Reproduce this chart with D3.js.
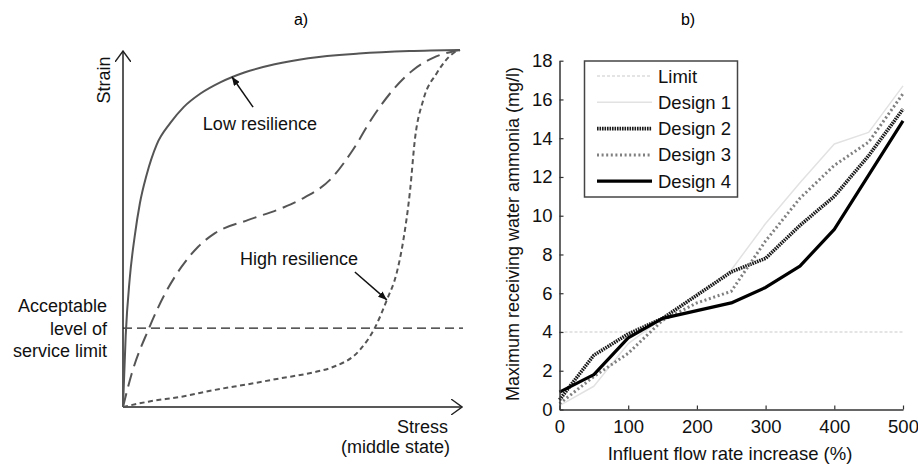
<!DOCTYPE html>
<html>
<head>
<meta charset="utf-8">
<script src="https://cdn.jsdelivr.net/npm/d3@7"></script>
<style>
  body { margin: 0; background: #fff; }
  svg { display: block; }
</style>
</head>
<body>
<svg id="chart" width="918" height="465"></svg>
<script>
// ---- panel a) : conceptual strain / stress curves (normalised 0..1) ----
const lowResilience = [
  [0, 0], [0.008, 0.2], [0.02, 0.36], [0.035, 0.48], [0.05, 0.57], [0.07, 0.65],
  [0.1, 0.735], [0.14, 0.795], [0.18, 0.84], [0.23, 0.878], [0.29, 0.91],
  [0.36, 0.937], [0.45, 0.96], [0.55, 0.977], [0.7, 0.99], [0.85, 0.997], [1, 1]
];
const midResilience = [
  [0, 0], [0.026, 0.094], [0.075, 0.216], [0.125, 0.318], [0.174, 0.393],
  [0.223, 0.449], [0.273, 0.487], [0.372, 0.524], [0.471, 0.557], [0.525, 0.580],
  [0.623, 0.645], [0.682, 0.720], [0.742, 0.813], [0.801, 0.888], [0.861, 0.944],
  [0.920, 0.978], [1, 1]
];
const highResilience = [
  [0, 0], [0.075, 0.015], [0.174, 0.029], [0.273, 0.048], [0.372, 0.064],
  [0.471, 0.081], [0.570, 0.098], [0.623, 0.112], [0.703, 0.160], [0.748, 0.223],
  [0.783, 0.300], [0.812, 0.375], [0.832, 0.468], [0.852, 0.608], [0.866, 0.748],
  [0.891, 0.860], [0.931, 0.935], [0.980, 0.991], [1, 1]
];
const serviceLimit = 0.221;

// ---- panel b) : maximum receiving water ammonia ----
const flowIncrease = [0, 50, 100, 150, 200, 250, 300, 350, 400, 450, 500];
const limitValues = [4, 4, 4, 4, 4, 4, 4, 4, 4, 4, 4];
const design1 = [0.2, 1.2, 3.4, 4.7, 5.9, 7.2, 9.6, 11.7, 13.7, 14.3, 16.7];
const design2 = [0.5, 2.8, 3.9, 4.7, 5.9, 7.1, 7.8, 9.5, 11.0, 13.1, 15.5];
const design3 = [0.3, 1.7, 2.9, 4.6, 5.5, 6.1, 8.7, 10.9, 12.6, 13.8, 16.3];
const design4 = [0.9, 1.8, 3.7, 4.7, 5.1, 5.5, 6.3, 7.4, 9.3, 12.1, 14.9];
const xTicks = [0, 100, 200, 300, 400, 500];
const yTicks = [0, 2, 4, 6, 8, 10, 12, 14, 16, 18];

const FONT = 'Liberation Sans, Arial, sans-serif';
const svg = d3.select('#chart');

const defs = svg.append('defs');
defs.append('marker')
    .attr('id', 'openArrow')
    .attr('viewBox', '0 0 12 16')
    .attr('refX', 11).attr('refY', 8)
    .attr('markerWidth', 12).attr('markerHeight', 16)
    .attr('markerUnits', 'userSpaceOnUse')
    .attr('orient', 'auto')
  .append('path')
    .attr('d', 'M0,0 L11,8 L0,16')
    .attr('fill', 'none')
    .attr('stroke', '#222')
    .attr('stroke-width', 1.4);
defs.append('marker')
    .attr('id', 'solidArrow')
    .attr('viewBox', '0 0 10 8')
    .attr('refX', 10).attr('refY', 4)
    .attr('markerWidth', 9).attr('markerHeight', 7)
    .attr('markerUnits', 'userSpaceOnUse')
    .attr('orient', 'auto')
  .append('path')
    .attr('d', 'M0,0 L10,4 L0,8 Z')
    .attr('fill', '#111');

const drawPanelA = () => {
  const x = d3.scaleLinear().domain([0, 1]).range([123, 460]);
  const y = d3.scaleLinear().domain([0, 1]).range([407, 50]);
  const g = svg.append('g').attr('class', 'panel-a');

  g.append('text')
      .attr('x', 301).attr('y', 25)
      .attr('text-anchor', 'middle')
      .style('font-family', FONT).style('font-size', '16px')
      .text('a)');

  // axes with open arrows
  g.append('line')
      .attr('x1', x(0)).attr('y1', y(0)).attr('x2', x(0)).attr('y2', 51)
      .attr('stroke', '#222').attr('stroke-width', 1.5)
      .attr('marker-end', 'url(#openArrow)');
  g.append('line')
      .attr('x1', x(0)).attr('y1', y(0)).attr('x2', 462).attr('y2', y(0))
      .attr('stroke', '#222').attr('stroke-width', 1.5)
      .attr('marker-end', 'url(#openArrow)');

  // acceptable level line
  g.append('line')
      .attr('x1', x(0)).attr('x2', 463)
      .attr('y1', y(serviceLimit)).attr('y2', y(serviceLimit))
      .attr('stroke', '#222').attr('stroke-width', 1.3)
      .attr('stroke-dasharray', '9,5');

  const line = d3.line()
      .x((d) => x(d[0]))
      .y((d) => y(d[1]))
      .curve(d3.curveMonotoneX);

  const curves = [
    { data: lowResilience, dash: null },
    { data: midResilience, dash: '14,7' },
    { data: highResilience, dash: '5,3.5' }
  ];
  g.selectAll('path.resilience')
      .data(curves)
      .enter()
      .append('path')
      .classed('resilience', true)
      .attr('d', (d) => line(d.data))
      .attr('fill', 'none')
      .attr('stroke', '#555')
      .attr('stroke-width', 2)
      .attr('stroke-dasharray', (d) => d.dash);

  // annotations
  g.append('line')
      .attr('x1', x(0.386)).attr('y1', y(0.840))
      .attr('x2', x(0.323)).attr('y2', y(0.925))
      .attr('stroke', '#111').attr('stroke-width', 1.5)
      .attr('marker-end', 'url(#solidArrow)');
  g.append('line')
      .attr('x1', x(0.688)).attr('y1', y(0.378))
      .attr('x2', x(0.783)).attr('y2', y(0.300))
      .attr('stroke', '#111').attr('stroke-width', 1.5)
      .attr('marker-end', 'url(#solidArrow)');

  const label = (tx, ty, str, anchor) => g.append('text')
      .attr('x', tx).attr('y', ty)
      .attr('text-anchor', anchor || 'start')
      .style('font-family', FONT).style('font-size', '18px')
      .style('fill', '#111')
      .text(str);

  label(x(0.237), y(0.776), 'Low resilience');
  label(x(0.347), y(0.398), 'High resilience');
  label(107, 312, 'Acceptable', 'end');
  label(107, 335, 'level  of', 'end');
  label(107, 357, 'service  limit', 'end');
  label(448, 433, 'Stress', 'end');
  label(450, 453, '(middle state)', 'end');

  g.append('text')
      .attr('transform', 'translate(110,80) rotate(-90)')
      .attr('text-anchor', 'middle')
      .style('font-family', FONT).style('font-size', '18px')
      .style('fill', '#111')
      .text('Strain');
}

const drawPanelB = () => {
  const x = d3.scaleLinear().domain([0, 500]).range([559.5, 903]);
  const y = d3.scaleLinear().domain([0, 18]).range([409.5, 60.7]);
  const g = svg.append('g').attr('class', 'panel-b');

  g.append('text')
      .attr('x', 688).attr('y', 25)
      .attr('text-anchor', 'middle')
      .style('font-family', FONT).style('font-size', '16px')
      .text('b)');

  const series = [
    { name: 'Limit', values: limitValues, color: '#c9c9c9', width: 1.2, dash: '3,2' },
    { name: 'Design 1', values: design1, color: '#e2e2e2', width: 1.5, dash: null },
    { name: 'Design 2', values: design2, color: '#1a1a1a', width: 3.6, dash: '1.6,0.9' },
    { name: 'Design 3', values: design3, color: '#808080', width: 3, dash: '2,2.6' },
    { name: 'Design 4', values: design4, color: '#000', width: 3.2, dash: null }
  ];

  const line = d3.line()
      .x((d, i) => x(flowIncrease[i]))
      .y((d) => y(d));

  g.selectAll('path.design')
      .data(series)
      .enter()
      .append('path')
      .classed('design', true)
      .attr('d', (d) => line(d.values))
      .attr('fill', 'none')
      .attr('stroke', (d) => d.color)
      .attr('stroke-width', (d) => d.width)
      .attr('stroke-dasharray', (d) => d.dash)
      .attr('stroke-linejoin', 'round');

  const xAxis = g.append('g')
      .attr('transform', `translate(0,${y(0)})`)
      .call(d3.axisBottom(x).tickValues(xTicks).tickSizeInner(-4).tickSizeOuter(0).tickPadding(10));
  const yAxis = g.append('g')
      .attr('transform', `translate(${x(0)},0)`)
      .call(d3.axisLeft(y).tickValues(yTicks).tickSizeInner(-4).tickSizeOuter(0).tickPadding(7));

  [xAxis, yAxis].forEach((ax) => {
    ax.select('.domain').attr('stroke', '#333').attr('stroke-width', 1.5);
    ax.selectAll('.tick line').attr('stroke', '#333').attr('stroke-width', 1.2);
    ax.selectAll('.tick text')
        .style('font-family', FONT)
        .style('font-size', '18.5px')
        .style('fill', '#111');
  });

  g.append('text')
      .attr('x', 730).attr('y', 460)
      .attr('text-anchor', 'middle')
      .style('font-family', FONT).style('font-size', '18.5px')
      .style('fill', '#111')
      .text('Influent flow rate increase (%)');
  g.append('text')
      .attr('transform', 'translate(519,234) rotate(-90)')
      .attr('text-anchor', 'middle')
      .style('font-family', FONT).style('font-size', '18px')
      .style('fill', '#111')
      .text('Maximum receiving water ammonia (mg/l)');

  // legend
  const legend = g.append('g').attr('class', 'legend');
  legend.append('rect')
      .attr('x', 584.5).attr('y', 61)
      .attr('width', 153).attr('height', 136)
      .attr('fill', '#fff')
      .attr('stroke', '#444').attr('stroke-width', 1.5);
  const rows = legend.selectAll('g.row')
      .data(series)
      .enter()
      .append('g')
      .classed('row', true)
      .attr('transform', (d, i) => `translate(0,${76 + i * 26.3})`);
  rows.append('line')
      .attr('x1', 597).attr('x2', 652)
      .attr('stroke', (d) => d.color)
      .attr('stroke-width', (d) => d.width)
      .attr('stroke-dasharray', (d) => d.dash);
  rows.append('text')
      .attr('x', 658).attr('y', 6.5)
      .style('font-family', FONT).style('font-size', '18.5px')
      .style('fill', '#111')
      .text((d) => d.name);
}

drawPanelA();
drawPanelB();
</script>
</body>
</html>
